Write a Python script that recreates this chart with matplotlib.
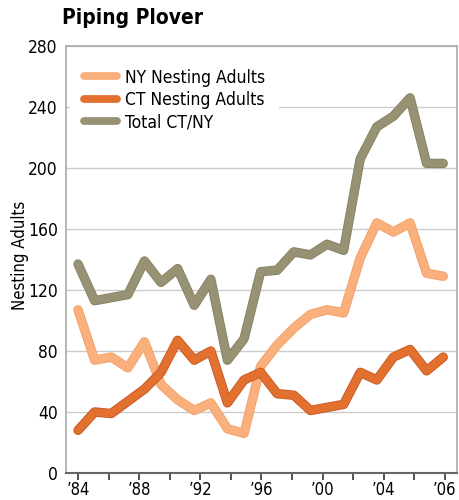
import matplotlib.pyplot as plt
import matplotlib.patheffects as pe
import numpy as np

plt.rcParams['font.family'] = ['DejaVu Sans']
plt.rcParams['font.stretch'] = 'condensed'

years = list(range(1984, 2007))
ny_adults = [107, 74, 76, 69, 86, 58, 48, 41, 46, 29, 26, 70, 84, 95, 104, 107, 105, 141, 164, 158, 164, 131, 129]
ct_adults = [28, 40, 39, 47, 55, 66, 87, 74, 80, 46, 61, 66, 52, 51, 41, 43, 45, 66, 61, 76, 81, 67, 76]
total = [137, 113, 115, 117, 139, 125, 134, 110, 127, 74, 88, 132, 133, 145, 143, 150, 146, 206, 227, 234, 246, 203, 203]

tick_labels = ["\u201984", "\u201988", "\u201992", "\u201996", "\u201900", "\u201904", "\u201906"]
y_ticks = [0, 40, 80, 120, 160, 200, 240, 280]

series = [
    ("NY Nesting Adults", ny_adults, "#F9B07C", "#F39F68"),
    ("CT Nesting Adults", ct_adults, "#E2702E", "#C65620"),
    ("Total CT/NY", total, "#979274", "#85805F"),
]

fig = plt.figure(figsize=(4.59, 5.0), dpi=100)
ax = fig.add_axes([0.144, 0.054, 0.852, 0.854])

for label, vals, color, edge in series:
    ax.plot(years, vals, color=color, lw=5.6, label=label,
            solid_capstyle='round', solid_joinstyle='round',
            path_effects=[pe.Stroke(linewidth=6.8, foreground=edge), pe.Normal()])

ax.set_xlim(1983.28, 2006.84)
ax.set_ylim(0, 280)
ax.set_yticks(y_ticks)
ax.tick_params(axis='y', length=0, labelsize=12.5, pad=6)
ax.yaxis.grid(True, color='#cccccc', lw=1)
ax.set_axisbelow(True)

# minor ticks every step, labels on every other one (as in the original)
ax.set_xticks(np.linspace(1984, 2006.1, 13), minor=True)
ax.set_xticks(np.linspace(1984, 2006.1, 7))
ax.set_xticklabels(tick_labels)
ax.tick_params(axis='x', which='both', direction='out', length=5, width=1.2,
               color='#333333', labelsize=12, pad=1)

for side in ['top', 'right', 'left']:
    ax.spines[side].set_color('#aaaaaa')
    ax.spines[side].set_linewidth(1.2)
ax.spines['bottom'].set_color('#666666')
ax.spines['bottom'].set_linewidth(1.5)

ax.set_ylabel("Nesting Adults", fontsize=12)
ax.yaxis.set_label_coords(-0.095, 0.51)

leg = ax.legend(loc='upper left', bbox_to_anchor=(-0.012, 1.0), frameon=True,
                fontsize=12.5, handlelength=1.9, handletextpad=0.45,
                labelspacing=0.25, borderpad=0.8)
leg.get_frame().set_edgecolor('none')
leg.get_frame().set_facecolor('white')
leg.get_frame().set_alpha(1)
for line in leg.get_lines():
    line.set_path_effects([])

fig.text(0.135, 0.963, "Piping Plover", fontsize=15, fontweight='bold',
         ha='left', va='center')

fig.savefig("out.png", dpi=100)
